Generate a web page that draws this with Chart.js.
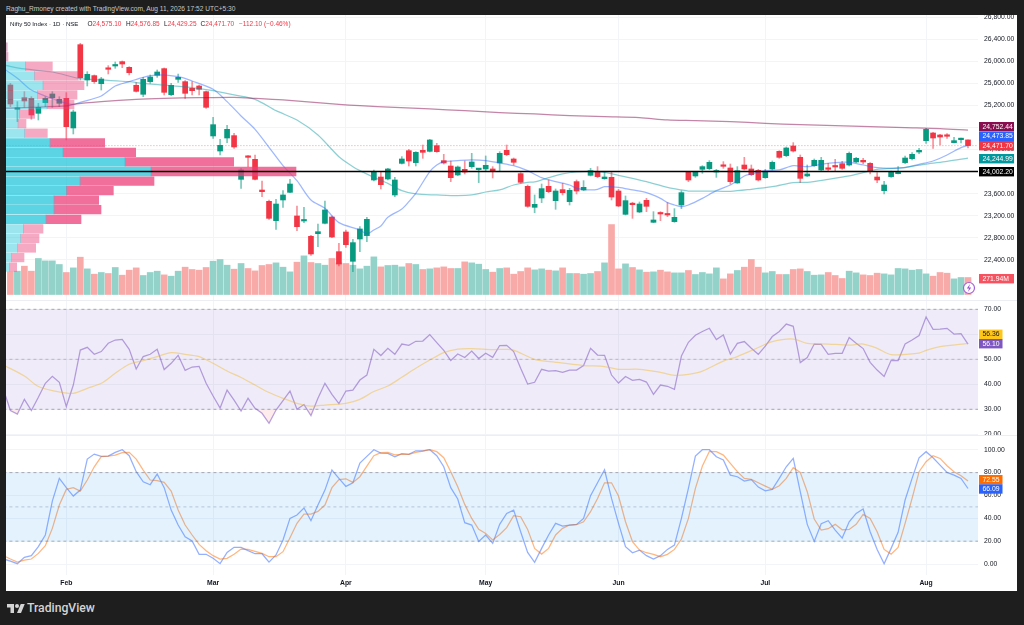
<!DOCTYPE html>
<html><head><meta charset="utf-8">
<script src="https://cdn.jsdelivr.net/npm/chart.js@4"></script>
<style>
html,body{margin:0;padding:0;background:#1e1e1e;width:1024px;height:625px;overflow:hidden}
#panel{position:absolute;left:6px;top:15px;width:1011px;height:576px;background:#fff}
canvas{position:absolute;left:6px;display:block;filter:blur(.3px)}
.t{position:absolute;white-space:pre;font-family:"Liberation Sans",sans-serif}
#hdr{left:6px;top:3.5px;font-size:6.6px;line-height:9px;color:#c8c8c8}
.lg{top:18.5px;font-size:6.5px;line-height:9px;color:#131722}
.r{color:#f23645}
#tv{left:27px;top:600px;font-family:Roboto,sans-serif;font-size:12.2px;font-weight:500;line-height:16px;color:#d4d4d4}
.sep{position:absolute;left:6px;width:1011px;height:1px;background:#eceef3}
</style></head><body>
<div id="panel"></div>
<canvas id="cPrice" width="1011" height="285" style="top:15px"></canvas>
<canvas id="cVP" width="1011" height="285" style="top:15px"></canvas>
<canvas id="cRSI" width="1011" height="135" style="top:300px"></canvas>
<canvas id="cStoch" width="1011" height="156" style="top:435px"></canvas>
<div class="sep" style="top:300px"></div>
<div class="sep" style="top:435px"></div>
<div class="t" id="hdr">Raghu_Rmoney created with TradingView.com, Aug 11, 2026 17:52 UTC+5:30</div>
<div class="t lg" style="left:10px;font-size:6.1px">Nifty 50 Index · 1D · NSE</div>
<div class="t lg" style="left:87.5px">O<span class="r">24,575.10</span></div>
<div class="t lg" style="left:126px">H<span class="r">24,576.85</span></div>
<div class="t lg" style="left:164px">L<span class="r">24,429.25</span></div>
<div class="t lg" style="left:200.5px">C<span class="r">24,471.70</span></div>
<div class="t lg r" style="left:239px">−112.10 (−0.46%)</div>
<svg style="position:absolute;left:6.5px;top:604px" width="18" height="9" viewBox="0 4 36 18"><path fill="#d4d4d4" d="M14 22H7V11H0V4h14v18zM28 22h-8l7.5-18h8L28 22z"/><circle fill="#d4d4d4" cx="20" cy="8" r="4"/></svg>
<div class="t" id="tv">TradingView</div>
<svg style="position:absolute;left:962px;top:281px" width="14" height="14" viewBox="0 0 14 14"><circle cx="7" cy="7" r="5.5" fill="#fff" stroke="#a560d8" stroke-width="1.2"/><path d="M8 3 4.8 7.6H7L6 11l3.2-4.6H7z" fill="#9c4fd6"/></svg>
<script>
// ---------- candles (index 0 .. 137, daily, Nifty 50)
const opens=[25572,25131,25342,25330,25058,25252,25342,25240,25330,24792,26304,25663,25742,25596,25875,25917,25996,25893,25566,25403,25633,25748,25869,25397,25675,25633,25512,25554,25451,24647,24374,24610,24653,23860,24284,24223,23666,23461,23110,23485,23624,23195,23104,22826,22874,23062,23176,22547,22904,22372,22777,22838,23848,23902,23866,23576,24150,24380,24163,24386,24368,24471,24199,24102,23939,24042,24090,24036,24048,24048,24157,24386,24229,23963,23733,23352,23521,23733,23473,23673,23455,23818,23667,23933,23987,23872,23896,23648,23225,23418,23267,23479,23080,23255,23231,23092,23394,23987,23921,24042,24054,23993,24108,24066,23794,24120,24048,24023,23890,24048,24368,24290,24465,24259,23921,24108,24030,24066,24108,24144,24120,24175,24205,24150,23902,23654,23909,23963,24163,24235,24356,24562,24701,24665,24653,24526,24580,24575.10];
const highs=[25602,25270,25451,25360,25240,25360,25451,25360,25433,25119,26329,25814,25754,25711,25923,25990,26008,25905,25615,25711,25754,25845,25881,25602,25772,25651,25633,25572,25463,24985,24586,24840,24695,24060,24290,24302,23830,23485,23497,23654,23860,23376,23352,22844,23049,23467,23195,22698,22940,22771,23001,23170,24030,24000,24060,23896,24272,24405,24362,24483,24586,24513,24314,24193,24102,24193,24332,24060,24284,24090,24362,24483,24247,23981,23757,23576,23775,23848,23685,23788,23697,23848,23836,24060,24090,24000,24000,23679,23558,23443,23449,23515,23273,23273,23437,23328,23654,24000,24005,24108,24199,24042,24181,24138,24090,24259,24120,24042,24042,24193,24380,24447,24526,24302,24120,24229,24259,24150,24223,24187,24356,24259,24241,24163,23981,23824,24011,24090,24284,24344,24423,24786,24713,24677,24689,24622,24610,24576.85];
const lows=[25179,24907,25167,24949,24937,25179,25167,25179,24574,24683,25663,25554,25602,25481,25772,25875,25887,25754,25445,25360,25602,25711,25391,25379,25621,25330,25391,25391,25149,24604,24302,24526,24423,23697,24090,23848,23546,23134,22953,23352,23618,22928,23074,22481,22638,23049,22801,22287,22626,22184,22547,22729,23830,23685,23848,23546,24138,24102,24102,24241,24356,24350,24138,23818,23927,23957,24060,23800,24017,23884,24011,24290,24120,23788,23352,23255,23437,23618,23316,23576,23394,23594,23654,23921,23890,23860,23485,23364,23213,23152,23255,23273,23074,23110,23183,23080,23328,23818,23896,23969,24036,23896,24060,23775,23788,24030,23927,23830,23878,24030,24241,24272,24356,23800,23909,24096,24011,24011,24000,24042,24102,24163,24138,23957,23800,23594,23896,23957,24144,24211,24326,24513,24423,24483,24604,24520,24520,24429.25];
const closes=[25227,25149,25282,25028,25167,25330,25409,25312,24816,25082,25705,25766,25633,25681,25857,25935,25953,25796,25457,25675,25717,25808,25439,25566,25711,25421,25469,25494,25167,24852,24477,24768,24447,24030,24259,23860,23636,23152,23412,23576,23775,23001,23122,22505,22910,23304,22813,22323,22674,22711,22959,23134,24005,23763,24048,23848,24229,24193,24350,24350,24574,24362,24157,23890,24084,23993,24175,24048,24114,24011,24332,24308,24169,23806,23370,23406,23691,23636,23648,23618,23660,23648,23715,24017,23909,23902,23539,23376,23473,23400,23412,23370,23122,23231,23213,23170,23618,23848,23993,24090,24169,24011,24096,23818,24017,24048,23945,23848,24005,24169,24259,24429,24374,23878,23957,24205,24205,24042,24084,24060,24332,24241,24175,24000,23848,23757,23987,24000,24247,24314,24386,24768,24610,24628,24641,24562,24592,24471.70];
// volumes in millions
const volumes=[362,373,453,373,576,538,538,480,352,426,597,410,325,352,336,432,309,389,426,304,352,373,314,293,373,437,400,389,432,533,560,469,405,496,416,378,464,480,506,437,362,517,618,512,496,469,576,506,496,469,410,453,602,442,464,469,442,496,480,400,410,426,442,416,416,522,506,485,400,357,416,426,325,368,426,394,410,389,378,426,336,336,325,336,368,506,1119,410,490,432,394,357,362,389,362,346,346,384,320,352,330,426,250,330,384,437,560,437,346,368,320,320,400,410,368,309,314,352,304,256,373,346,314,304,341,330,314,416,410,389,400,330,293,352,341,250,272,271.94];
// ---------- moving averages, read at the listed candle indices
const ma20Idx=[-1,1,3,6,8,9,10,13,15,17,19,21,24,26,29,31,33,35,37,39,41,43,45,47,50,51,52,53,54,56,57,58,60,61,62,64,66,68,70,72,74,76,78,80,81,83,84,85,87,89,91,93,94,95,96,97,99,101,103,105,106,108,110,112,114,116,118,120,122,124,126,128,130,132,134,136,137];
const ma20Vals=[25870,25693,25480,25324,25240,25221,25258,25373,25554,25633,25711,25754,25723,25645,25494,25270,25010,24768,24441,24108,23836,23485,23334,23074,22941,22868,22941,23013,23170,23322,23455,23606,24000,24120,24181,24199,24211,24199,24157,24108,24017,23890,23818,23757,23697,23667,23679,23727,23715,23667,23618,23515,23437,23394,23364,23394,23515,23654,23757,23921,23957,24017,24030,24108,24090,24132,24163,24169,24120,24072,24060,24072,24132,24193,24302,24435,24473.85];
const ma50Idx=[-1,2,6,10,13,17,19,22,26,29,32,35,38,41,44,47,49,50,52,54,56,58,61,64,66,68,70,72,74,75,77,79,81,83,85,87,89,91,94,96,97,100,103,106,109,112,114,117,120,122,124,126,128,131,134,137];
const ma50Vals=[25935,25863,25808,25687,25663,25633,25602,25572,25524,25469,25391,25312,25106,24937,24665,24270,24090,24017,23896,23787,23654,23594,23576,23564,23576,23630,23667,23757,23806,23812,23890,23957,23993,24005,23987,23933,23878,23818,23715,23667,23648,23648,23642,23679,23727,23800,23806,23860,23921,23981,24042,24060,24078,24138,24187,24244.99];
const ma200Idx=[-1,8,9,13,18,22,27,32,35,39,47,50,55,60,65,70,75,80,85,90,94,98,103,108,113,118,123,128,133,137];
const ma200Vals=[25149,25191,25221,25270,25312,25330,25342,25348,25330,25300,25221,25197,25167,25137,25106,25070,25046,25016,24997,24979,24937,24925,24907,24877,24852,24834,24816,24798,24780,24752.44];
const pivotLevel=24002.20;
// ---------- volume profile rows (price at the row centre, up volume, down volume)
const vpPrice=[26259,26085,25912,25738,25565,25391,25218,25044,24870,24697,24523,24350,24176,24002,23829,23655,23482,23308,23134,22961,22787,22614,22440,22266];
const vpUp=[0,0,58,85,111,95,123,40,36,56,132,171,357,435,222,181,144,144,120,52,44,35,17,11];
const vpDown=[4,6,81,132,123,118,81,46,24,68,164,218,326,435,222,141,134,141,105,59,55,54,37,21];
// ---------- RSI: first value sits at index -1
const rsi=[38.0,29.5,28.1,34.0,29.5,34.8,40.4,43.2,40.8,31.1,39.7,53.7,54.8,52.0,53.1,56.4,57.7,58.0,54.0,46.1,51.1,52.0,54.0,45.9,48.4,51.6,45.6,46.9,47.2,40.4,35.3,30.5,37.7,33.7,29.3,34.4,30.4,28.4,24.4,29.7,33.5,37.3,30.0,31.9,27.5,34.4,40.4,36.0,32.3,37.3,37.7,41.7,43.7,54.0,51.5,54.4,52.0,56.1,55.6,57.2,57.3,59.9,56.7,53.6,49.5,52.1,50.7,53.3,50.3,52.4,50.8,55.5,55.6,53.1,46.4,40.1,40.8,46.0,45.3,45.5,44.8,45.7,45.7,47.5,54.4,51.7,51.6,43.7,40.5,43.1,41.6,42.0,40.9,36.0,39.7,39.2,38.0,51.3,56.8,59.6,61.1,62.4,57.9,59.7,52.1,56.4,57.1,54.4,52.0,55.3,59.1,61.1,64.1,63.2,48.7,50.7,56.1,56.0,52.0,52.4,52.4,58.7,56.4,54.3,48.8,45.7,43.1,49.6,49.5,56.1,57.7,59.5,66.9,62.0,62.1,62.4,60.1,60.3,56.10];
const rsiMaIdx=[-1,2,4,6,9,11,13,15,17,19,21,23,25,27,29,31,33,35,37,39,41,43,45,48,50,52,54,56,58,60,62,64,66,69,71,72,75,78,82,85,87,90,93,95,97,99,102,104,107,109,112,114,117,120,122,124,126,130,131,133,137];
const rsiMaVals=[47.7,43.3,39.1,37.5,36.4,38.4,40.4,44.4,48.0,49.5,51.1,52.7,52.0,51.1,48.4,45.3,42.7,39.7,36.7,34.4,32.4,31.3,31.7,32.4,34.0,37.1,39.3,42.8,46.4,49.7,52.7,54.1,54.3,53.9,54.0,53.7,50.0,48.8,47.5,47.1,46.0,46.0,44.8,43.6,44.0,45.3,49.3,51.1,54.7,57.1,58.1,56.4,56.1,55.7,56.1,54.4,51.9,52.5,53.6,55.1,56.36];
const rsiLevels=[70,50,30];
// ---------- Stochastic: first value sits at index -1
const stochK=[4.4,2.6,0.3,5.8,7.3,15.2,25.4,55.1,74.9,66.8,59.5,64.7,91.8,96.2,94.2,94.5,97.7,100,94.8,80.8,72.0,69.4,78.7,66.8,47.2,34.1,23.9,20.1,8.5,8.5,5.0,0.3,10.2,14.6,14.6,11.7,9.0,9.0,1.7,7.9,21.0,39.9,42.9,49.0,37.9,51.6,64.7,82.2,74.9,67.9,71.1,88.3,94.2,100,97.1,96.8,93.9,96.5,95.9,99.1,99.1,100,94.8,85.1,66.8,56.9,36.2,34.1,19.8,25.4,18.1,34.7,44.3,47.2,28.3,10.2,1.5,13.7,25.4,35.6,33.2,34.1,34.7,39.9,59.8,71.1,82.5,57.4,35.6,15.2,9.9,12.2,7.3,4.4,7.3,12.8,16.6,39.9,66.2,94.5,100,100,93.9,91.0,77.8,76.4,72.6,73.8,67.3,64.1,65.3,74.9,85.1,92.4,63.3,34.7,19.8,35.3,37.9,29.7,22.7,37.0,44.3,48.1,28.3,12.8,0.3,13.7,27.7,56.0,74.9,93.0,98.3,93.0,86.6,80.2,77.8,74.9,66.09];
const stochD=[7.3,4.4,1.7,3.5,4.4,9.3,16.0,31.2,51.6,65.3,66.8,63.8,73.5,85.1,93.9,94.5,95.3,97.4,97.7,91.8,82.2,73.5,72.9,71.4,63.8,47.2,34.1,25.4,17.2,11.7,7.3,4.4,5.0,8.5,13.1,12.8,11.1,9.3,6.4,6.4,10.8,23.0,35.6,43.7,43.7,46.1,51.6,66.8,73.8,74.6,71.4,76.4,85.7,94.8,97.4,97.7,95.6,95.9,95.9,97.7,98.8,100,98.3,93.0,80.8,67.6,52.2,39.9,30.3,26.8,21.0,25.9,31.8,42.3,41.4,30.3,13.7,8.7,13.7,25.4,31.2,34.1,34.4,37.0,45.8,57.4,71.1,71.1,59.5,37.0,19.5,12.2,9.9,8.5,6.4,8.5,12.8,21.9,39.9,66.2,85.7,98.5,98.3,95.3,88.0,80.8,74.9,74.1,71.1,68.2,65.3,68.5,74.9,84.3,80.2,63.3,39.4,29.7,30.9,34.7,30.0,30.3,34.7,43.4,39.9,28.3,12.8,8.7,14.6,35.6,57.4,80.8,89.5,94.8,92.4,86.0,80.8,77.3,72.55];
const stochLevels=[80,50,20];
// ---------- tick labels
const priceTicks=[22400,22800,23200,23600,24000,24400,24800,25200,25600,26000,26400,26800];
const rsiTicks=[20,30,40,50,60,70];
const stochTicks=[0,20,40,60,80,100];
const monthNames=["Feb","Mar","Apr","May","Jun","Jul","Aug"];
const monthIdx=[8,29,48,68,87,108,131];

// ---------- shared helpers
const FONT='"Liberation Sans",sans-serif', INK='#131722', GRID='#f3f4f8';
const X_MIN=-0.629, X_MAX=138.43, AXIS_W=39, LW=1.25;
const green='#089981', red='#f23645';
const fmt=v=>v.toLocaleString('en-US',{minimumFractionDigits:2,maximumFractionDigits:2});
const pts=(idx,vals)=>idx.map((x,k)=>({x,y:vals[k]}));
const fromMinusOne=a=>a.map((y,k)=>({x:k-1,y}));
const flat=v=>[{x:-1,y:v},{x:139,y:v}];
const up=i=>closes[i]>=opens[i];
const noPad=a=>{a.paddingTop=a.paddingBottom=a.paddingLeft=a.paddingRight=0};
function xAxis(showLabels,h){return{
  type:'linear',min:X_MIN,max:X_MAX,offset:false,
  afterBuildTicks:a=>{a.ticks=monthIdx.map(value=>({value}))},
  afterFit:a=>{a.height=h;noPad(a)},
  border:{display:false},grid:{color:GRID,lineWidth:1,drawTicks:false,offset:false},
  ticks:{display:showLabels,autoSkip:false,maxRotation:0,padding:4,color:INK,
    font:{family:FONT,size:6.8,weight:'bold'},
    callback:v=>monthNames[monthIdx.indexOf(v)]??''}
};}
function yAxis(min,max,ticks){return{
  position:'right',min,max,
  afterBuildTicks:a=>{a.ticks=ticks.map(value=>({value}))},
  afterFit:a=>{a.width=AXIS_W;noPad(a)},
  border:{display:false},grid:{color:GRID,lineWidth:1,drawTicks:false},
  ticks:{autoSkip:false,padding:6,color:INK,font:{family:FONT,size:6.8},callback:v=>fmt(v)}
};}
const tagsPlugin=tags=>({id:'tags',afterDraw(c){
  const g=c.ctx;g.save();
  g.textBaseline='middle';g.textAlign='left';
  for(const t of tags){
    g.fillStyle=t.bg;g.fillRect(973,t.y-4.7,t.w,9.4);
    g.fillStyle=t.fg;g.font='6.8px '+FONT;
    g.fillText(t.text,976.5,t.y+0.3);
  }
  g.restore();
}});
const line=(data,color,extra={})=>Object.assign({type:'line',data,borderColor:color,borderWidth:LW,pointRadius:0,tension:0,fill:false},extra);
const base={responsive:false,animation:false,events:[],devicePixelRatio:1,
  layout:{padding:0},plugins:{legend:{display:false},tooltip:{enabled:false}}};

// ---------- price pane
const n=closes.length, all=closes.map((_,i)=>i);
new Chart(document.getElementById('cPrice'),{
  type:'bar',
  data:{datasets:[
    line(pts(ma200Idx,ma200Vals),'rgba(136,14,79,.5)',{yAxisID:'y',order:1,tension:.3}),
    line(pts(ma50Idx,ma50Vals),'rgba(0,150,160,.45)',{yAxisID:'y',order:1,tension:.3}),
    line(pts(ma20Idx,ma20Vals),'rgba(41,98,255,.45)',{yAxisID:'y',order:1,tension:.3}),
    line(flat(closes[n-1]),'rgba(242,54,69,.5)',{yAxisID:'y',order:2,borderDash:[1,2],borderWidth:1}),
    {type:'bar',yAxisID:'y',order:3,grouped:false,barThickness:5,minBarLength:1.5,
     data:all.map(i=>({x:i,y:[opens[i],closes[i]]})),backgroundColor:all.map(i=>up(i)?green:red)},
    {type:'bar',yAxisID:'y',order:4,grouped:false,barThickness:1,
     data:all.map(i=>({x:i,y:[lows[i],highs[i]]})),backgroundColor:all.map(i=>up(i)?'rgba(8,153,129,.55)':'rgba(242,54,69,.55)')},
    {type:'bar',yAxisID:'yv',order:5,grouped:false,barThickness:6,
     data:all.map(i=>({x:i,y:volumes[i]})),backgroundColor:all.map(i=>up(i)?'#92d2c8':'#f8aaa8')}
  ]},
  options:Object.assign({},base,{
    scales:{x:xAxis(false,0),y:yAxis(21669.8,26842.5,priceTicks),
      yv:{display:false,min:-88,max:4472}}
  }),
  plugins:[tagsPlugin([
    {text:fmt(ma200Vals.at(-1)),y:111.7,w:35,bg:'#880e4f',fg:'#fff'},
    {text:fmt(ma20Vals.at(-1)),y:121.3,w:35,bg:'#2962ff',fg:'#fff'},
    {text:fmt(closes[n-1]),y:130.7,w:35,bg:'#f23645',fg:'#fff'},
    {text:fmt(ma50Vals.at(-1)),y:143.7,w:35,bg:'#00979d',fg:'#fff'},
    {text:fmt(pivotLevel),y:156.7,w:35,bg:'#000',fg:'#fff'},
    {text:fmt(volumes[n-1])+'M',y:263.7,w:35,bg:'#f7525f',fg:'#fff'}
  ])]
});

// ---------- volume profile overlay and pivot line
const alphaUp=k=>k>=10&&k<=18?'rgba(38,198,218,.75)':'rgba(38,198,218,.45)';
const alphaDn=k=>k>=10&&k<=18?'rgba(236,64,122,.75)':'rgba(236,64,122,.45)';
new Chart(document.getElementById('cVP'),{
  type:'bar',
  data:{datasets:[
    {type:'line',data:[{x:0,y:pivotLevel},{x:2916,y:pivotLevel}],borderColor:'#000',borderWidth:1.4,pointRadius:0,order:1},
    {type:'bar',order:2,barThickness:8.6,data:vpPrice.map((y,k)=>({y,x:vpUp[k]})),backgroundColor:vpPrice.map((_,k)=>alphaUp(k))},
    {type:'bar',order:2,barThickness:8.6,data:vpPrice.map((y,k)=>({y,x:vpDown[k]})),backgroundColor:vpPrice.map((_,k)=>alphaDn(k))}
  ]},
  options:Object.assign({},base,{
    indexAxis:'y',
    layout:{padding:{right:AXIS_W}},
    scales:{
      x:{type:'linear',display:false,stacked:true,min:0,max:2916,offset:false},
      y:{type:'linear',display:false,stacked:true,min:21669.8,max:26842.5,offset:false}
    }
  })
});

// ---------- RSI pane
new Chart(document.getElementById('cRSI'),{
  type:'line',
  data:{datasets:[
    line(flat(rsiLevels[0]),'rgba(120,123,134,.6)',{borderDash:[3,3],borderWidth:1,fill:1,backgroundColor:'rgba(126,87,194,.12)'}),
    line(flat(rsiLevels[2]),'rgba(120,123,134,.6)',{borderDash:[3,3],borderWidth:1}),
    line(flat(rsiLevels[1]),'rgba(120,123,134,.4)',{borderDash:[3,3],borderWidth:1}),
    line(pts(rsiMaIdx,rsiMaVals),'rgba(255,193,7,.42)',{tension:.3}),
    line(fromMinusOne(rsi),'rgba(126,87,194,.55)',{fill:{target:{value:30},above:'transparent',below:'rgba(242,54,69,.1)'}})
  ]},
  options:Object.assign({},base,{scales:{x:xAxis(false,0),y:yAxis(19.72,73.72,rsiTicks)}}),
  plugins:[tagsPlugin([
    {text:fmt(rsiMaVals.at(-1)),y:34.3,w:23.5,bg:'#ffc61a',fg:'#131722'},
    {text:fmt(rsi.at(-1)),y:43.7,w:23.5,bg:'#7e57c2',fg:'#fff'}
  ])]
});

// ---------- Stochastic pane
new Chart(document.getElementById('cStoch'),{
  type:'line',
  data:{datasets:[
    line(flat(stochLevels[0]),'rgba(120,123,134,.6)',{borderDash:[3,3],borderWidth:1,fill:1,backgroundColor:'rgba(33,150,243,.12)'}),
    line(flat(stochLevels[2]),'rgba(120,123,134,.6)',{borderDash:[3,3],borderWidth:1}),
    line(flat(stochLevels[1]),'rgba(120,123,134,.4)',{borderDash:[3,3],borderWidth:1}),
    line(fromMinusOne(stochD),'rgba(255,109,0,.5)'),
    line(fromMinusOne(stochK),'rgba(41,98,255,.5)')
  ]},
  options:Object.assign({},base,{scales:{x:xAxis(true,16),y:yAxis(-9.6,112.9,stochTicks)}}),
  plugins:[tagsPlugin([
    {text:fmt(stochD.at(-1)),y:44.7,w:23.5,bg:'#ff6d00',fg:'#fff'},
    {text:fmt(stochK.at(-1)),y:54,w:23.5,bg:'#2962ff',fg:'#fff'}
  ])]
});
</script>
</body></html>
